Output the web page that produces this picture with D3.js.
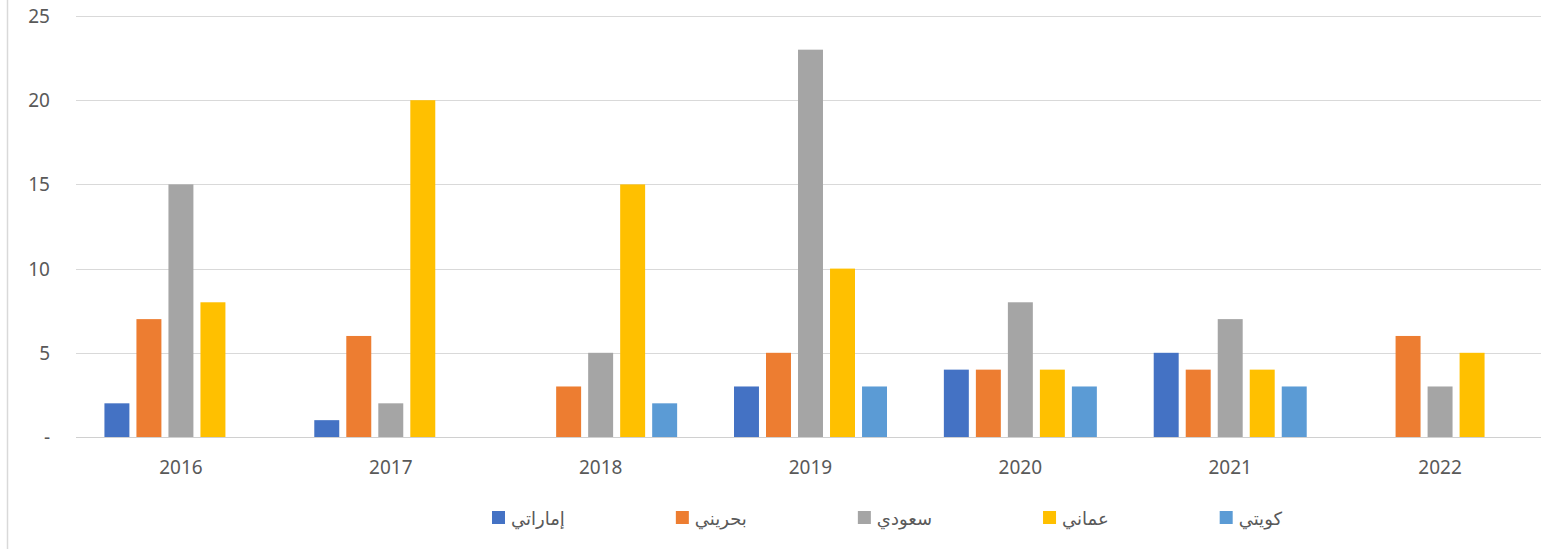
<!DOCTYPE html>
<html><head><meta charset="utf-8">
<script src="https://cdn.jsdelivr.net/npm/d3@7"></script>
<style>body{margin:0;background:#fff;}svg{display:block;}</style>
</head><body>
<script>
const years = ["2016","2017","2018","2019","2020","2021","2022"];
const seriesNames = ["إماراتي","بحريني","سعودي","عماني","كويتي"];
const seriesColors = ["#4472C4","#ED7D31","#A5A5A5","#FFC000","#5B9BD5"];
const emirati = [2,1,0,3,4,5,0];
const bahraini = [7,6,3,5,4,4,6];
const saudi = [15,2,5,23,8,7,3];
const omani = [8,20,15,10,4,4,5];
const kuwaiti = [0,0,2,3,3,3,0];
const yTicks = [0,5,10,15,20,25];
const values = [emirati,bahraini,saudi,omani,kuwaiti];

const W=1541,H=549;
const svg=d3.select("body").append("svg").attr("width",W).attr("height",H);
svg.append("line").attr("x1",7.5).attr("x2",7.5).attr("y1",0).attr("y2",H).attr("stroke","#D9D9D9").attr("stroke-width",1.5);

const y=d3.scaleLinear().domain([0,25]).range([437,16]);
const x0=d3.scaleBand().domain(years).range([76,1545]);
const x1=d3.scaleBand().domain(seriesNames).range([-76.5,76.5]).paddingInner(0.22).paddingOuter(0);

svg.append("g").selectAll("line").data(yTicks).join("line")
  .attr("x1",76).attr("x2",W).attr("y1",d=>Math.round(y(d))+0.5).attr("y2",d=>Math.round(y(d))+0.5)
  .attr("stroke",d=>d===0?"#D0D0D0":"#D9D9D9").attr("stroke-width",1);

const numFont="Noto Sans, Open Sans, sans-serif";
svg.append("g").selectAll("text").data(yTicks).join("text")
  .attr("x",50).attr("y",d=>y(d)+7).attr("text-anchor","end")
  .attr("font-family",numFont).attr("font-size",19).attr("fill","#595959")
  .text(d=>d===0?"-":d);

const g=svg.append("g");
years.forEach((yr,i)=>{
  const cx=x0(yr)+x0.bandwidth()/2;
  seriesNames.forEach((s,j)=>{
    const v=values[j][i];
    if(v>0){
      g.append("rect").attr("x",cx+x1(s)).attr("width",x1.bandwidth())
        .attr("y",y(v)).attr("height",y(0)-y(v)).attr("fill",seriesColors[j]);
    }
  });
});

svg.append("g").selectAll("text").data(years).join("text")
  .attr("x",d=>x0(d)+x0.bandwidth()/2).attr("y",474).attr("text-anchor","middle")
  .attr("font-family",numFont).attr("font-size",19).attr("fill","#595959")
  .text(d=>d);

// legend: items laid out sequentially with a constant gap
const lg=svg.append("g");
let lx=492;
seriesNames.forEach((s,j)=>{
  lg.append("rect").attr("x",lx).attr("y",511).attr("width",13).attr("height",13).attr("fill",seriesColors[j]);
  const t=lg.append("text").attr("x",lx+19).attr("y",525).attr("text-anchor","start")
    .attr("font-family","DejaVu Sans, Noto Sans, sans-serif").attr("font-size",18).attr("fill","#595959")
    .text(s);
  const tw=t.node().getComputedTextLength();
  lx=lx+19+tw+111;
});
</script>
</body></html>
